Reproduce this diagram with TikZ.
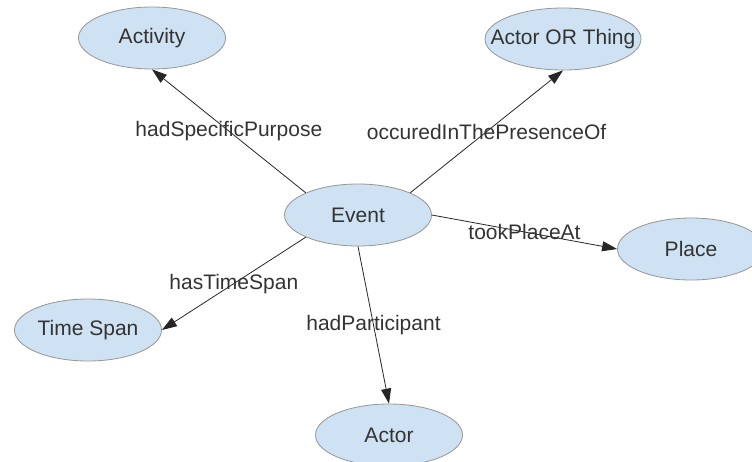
\documentclass[tikz,border=0pt]{standalone}
\usepackage{fontspec}
\setmainfont{Liberation Sans}
\usepackage{xcolor}
\usetikzlibrary{shapes.geometric, arrows.meta}

\definecolor{conceptfill}{RGB}{207,226,243}
\definecolor{conceptdraw}{RGB}{150,150,150}
\definecolor{labeltext}{RGB}{51,51,51}

\begin{document}
\begin{tikzpicture}[
    x=1pt, y=-1pt,
    every node/.style={font=\fontsize{21}{25}\selectfont, text=labeltext},
    concept/.style={ellipse, draw=conceptdraw, fill=conceptfill, line width=0.8pt,
        inner sep=0pt, minimum width=147pt, minimum height=62pt},
    relation/.style={color=black!85, line width=0.8pt, -{Triangle[length=15pt, width=10pt]}}
]
    \useasboundingbox (0,0) rectangle (752,461);

    % Concepts around the event
    \node[concept] (event) at (358,215) {\makebox[0pt]{Event}};
    \node[concept] (activity) at (152,38) {\makebox[0pt]{Activity}};
    \node[concept, minimum width=156pt] (actorthing) at (563,39) {\makebox[0pt]{Actor OR Thing}};
    \node[concept] (place) at (691,249) {\makebox[0pt]{Place}};
    \node[concept] (timespan) at (88,330) {\makebox[0pt]{Time Span}};
    \node[concept] (actor) at (389,435) {\makebox[0pt]{Actor}};

    \path[relation]
        (event.north west) edge node {hadSpecificPurpose} (activity.south)
        (event.north east) edge node {occuredInThePresenceOf} (actorthing.south)
        (event.east) edge node {tookPlaceAt} (place.west)
        (event.south west) edge node {hasTimeSpan} (timespan.east)
        (event.south) edge node {hadParticipant} (actor.north);
\end{tikzpicture}
\end{document}
